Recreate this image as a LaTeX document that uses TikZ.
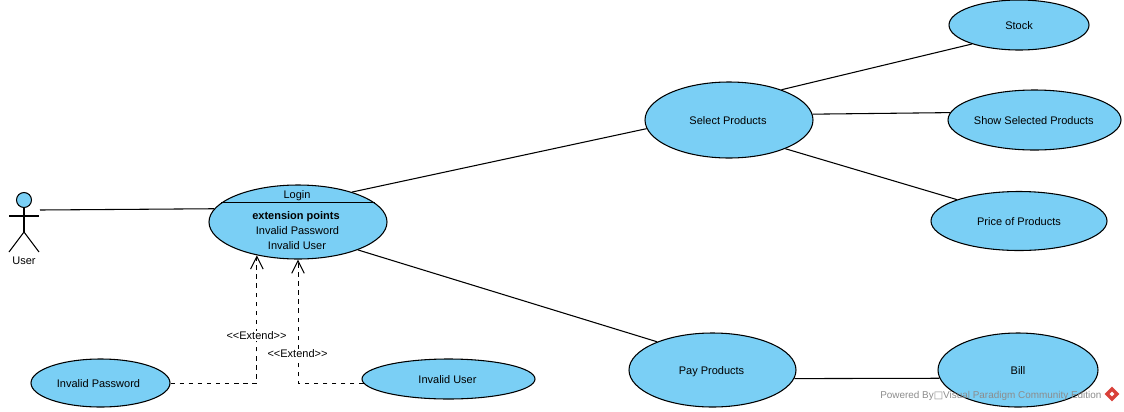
\documentclass[tikz,border=0pt]{standalone}
\usepackage{fontspec}
\setmainfont{Liberation Sans}
\newfontfamily\boxfont{DejaVu Sans}
\usetikzlibrary{shapes.geometric,arrows.meta}
\definecolor{usecasefill}{HTML}{7ACFF5}
\definecolor{markgray}{HTML}{8C8C8C}
\definecolor{markred}{HTML}{D9413A}
\def\pxunit{0.75pt}
\tikzset{
  usecase/.style={ellipse,draw=black,fill=usecasefill,inner sep=0pt,line width=0.8pt,text height=7.4pt,text depth=0pt},
  assoc/.style={draw=black,line width=0.8pt},
  extendline/.style={draw=black,line width=0.75pt,dash pattern=on 3.4pt off 3.4pt,-{Straight Barb[length=9.5pt,width=9.5pt]}},
  extendlabel/.style={fill=white,inner sep=1pt},
  plaintext/.style={inner sep=0pt}
}
\begin{document}
\begin{tikzpicture}[x=\pxunit,y=-\pxunit,font=\fontsize{8.25}{10}\selectfont]
\useasboundingbox (0,0) rectangle (1124,411);

\node[usecase,minimum width=140*\pxunit,minimum height=50*\pxunit] (stock) at (1019,25) {Stock};
\node[usecase,minimum width=168*\pxunit,minimum height=76*\pxunit] (select) at (729,120) {Select Products\kern1.5pt};
\node[usecase,minimum width=173*\pxunit,minimum height=60*\pxunit] (show) at (1034.5,120) {Show Selected Products\kern1pt};
\node[usecase,minimum width=176*\pxunit,minimum height=59*\pxunit] (price) at (1019,221) {Price of Products};
\node[usecase,minimum width=178*\pxunit,minimum height=74*\pxunit] (login) at (298,222) {};
\node[usecase,minimum width=139*\pxunit,minimum height=48*\pxunit] (invpassword) at (100.5,383) {Invalid Password\kern3pt};
\node[usecase,minimum width=173*\pxunit,minimum height=40*\pxunit] (invuser) at (448.5,379) {Invalid User\kern1.5pt};
\node[usecase,minimum width=167*\pxunit,minimum height=74*\pxunit] (pay) at (712.5,370) {Pay Products\kern1.5pt};
\node[usecase,minimum width=160*\pxunit,minimum height=74*\pxunit] (bill) at (1018,370) {Bill};

% login compartments
\node[plaintext] (logintitle) at (297,195.5) {Login};
\node[plaintext] (loginext) at (296,216.5) {\textbf{extension points}};
\node[plaintext] (loginpw) at (297.5,231) {Invalid Password};
\node[plaintext] (loginusr) at (297,246) {Invalid User};
\draw[assoc] (login.166) -- (login.14);

% actor
\node[circle,draw=black,fill=usecasefill,inner sep=0pt,line width=0.8pt,minimum size=15*\pxunit] (userhead) at (24,200) {};
\coordinate (userhip) at (24,232);
\coordinate (userarml) at (9,216);
\coordinate (userarmr) at (39,216);
\coordinate (userfootl) at (9,252);
\coordinate (userfootr) at (39,252);
\coordinate (userhand) at (40,210);
\draw[assoc] (userhead) -- (userhip);
\draw[assoc] (userarml) -- (userarmr);
\draw[assoc] (userfootl) -- (userhip) -- (userfootr);
\node[plaintext] (username) at (24,261) {User};

\draw[assoc] (userhand) -- (login.171.9);
\draw[assoc] (login.29) -- (select.186);
\draw[assoc] (login.-25) -- (pay.153);
\draw[assoc] (select.30) -- (stock.202);
\draw[assoc] (select.4.85) -- (show.175.24);
\draw[assoc] (select.-27) -- (price.161);
\draw[assoc] (pay.-6.3) -- (bill.186.6);

\draw[extendline] (invpassword.east) -| (login.219);
\draw[extendline] (invuser.183) -| (login.-90);
\node[extendlabel] (extendpw) at (256.5,336) {<{}<Extend>{}>};
\node[extendlabel] (extenduser) at (297.5,354) {<{}<Extend>{}>};

% watermark
\node[plaintext,anchor=west,text=markgray,font=\fontsize{7.45}{9}\selectfont] (powered) at (880,396) {Powered By{\boxfont □}Visual Paradigm Community Edition};
\node[diamond,fill=markred,inner sep=0pt,minimum size=15*\pxunit] (vplogo) at (1112,394) {};
\node[diamond,fill=white,inner sep=0pt,minimum size=5*\pxunit] (vplogoin) at (vplogo) {};

\end{tikzpicture}
\end{document}
